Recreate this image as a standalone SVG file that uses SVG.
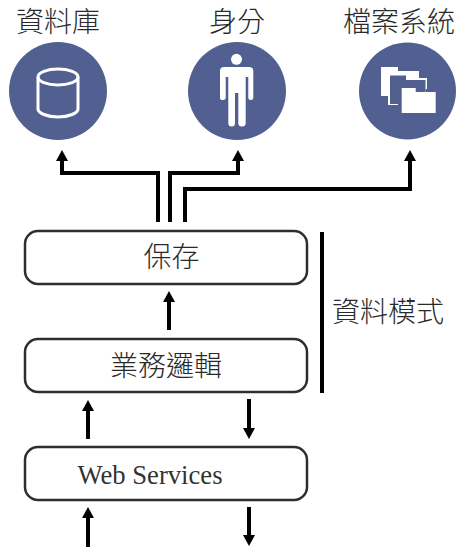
<svg xmlns="http://www.w3.org/2000/svg" width="456" height="548" viewBox="0 0 456 548">
<style>
text{font-family:"Noto Sans CJK TC","Noto Sans CJK SC",sans-serif;font-size:28px;font-weight:300;fill:#2a2a2a;text-anchor:middle}
.latin{font-family:"Liberation Serif",serif;fill:#333}
.box{fill:#fff;stroke:#2e2e2e;stroke-width:2.5}
.disc{fill:#526091}
.line{fill:none;stroke:#000;stroke-width:4;stroke-linejoin:miter}
.arrow{marker-end:url(#head)}
.icon{fill:#fff}
.iconline{fill:none;stroke:#fff;stroke-width:3}
</style>
<defs>
<marker id="head" markerUnits="userSpaceOnUse" markerWidth="12" markerHeight="12" refX="0" refY="6" orient="auto">
<path d="M0 0L11 6L0 12Z" fill="#000"/>
</marker>
</defs>
<g id="connectors">
<path class="line arrow" d="M158 222V173H62V161"/>
<path class="line arrow" d="M170 222V173H238V161"/>
<path class="line arrow" d="M185 222V189H410V161"/>
<path class="line arrow" d="M169 330V302"/>
<path class="line arrow" d="M88 439V411"/>
<path class="line arrow" d="M249 399V428"/>
<path class="line arrow" d="M88 547V518"/>
<path class="line arrow" d="M249 507V535"/>
<path class="line" d="M322 232V393"/>
</g>
<g id="db">
<text x="58" y="32">資料庫</text>
<circle class="disc" cx="58" cy="91" r="49"/>
<ellipse class="iconline" cx="58" cy="77" rx="20" ry="8"/>
<path class="iconline" d="M38 77V109C38 113 47 117 58 117S78 113 78 109V77"/>
</g>
<g id="identity">
<text x="237" y="32">身分</text>
<circle class="disc" cx="237" cy="91" r="49"/>
<circle class="icon" cx="236.500" cy="59.300" r="5.500"/>
<path class="icon" d="M224 67H249Q253.300 67 253.300 71V98Q253.300 100 250.800 100Q248.300 100 248.300 98V77H245.700V123Q245.700 126.500 242 126.500Q238.300 126.500 238.300 123V93H235V123Q235 126.500 231.700 126.500Q228.300 126.500 228.300 123V77H225.700V98Q225.700 100 223 100Q220 100 220 98V71Q220 67 224 67Z"/>
</g>
<g id="filesystem">
<text x="399" y="32">檔案系統</text>
<circle class="disc" cx="407.500" cy="91" r="48.500"/>
<path class="icon" d="M381 67H398V71H419V78H427V89H425.500V95H398V105H388V96H381Z"/>
<path class="disc" d="M390 75.500H406V80H425.500V96H400V104H390Z"/>
<path class="icon" d="M401.700 88H415.700V92H435.700V113H401.700Z"/>
</g>
<g id="storage">
<rect class="box" x="25" y="231" width="282" height="53" rx="13"/>
<text x="171.500" y="267">保存</text>
</g>
<g id="logic">
<rect class="box" x="25" y="339" width="282" height="53" rx="13"/>
<text x="166" y="376">業務邏輯</text>
</g>
<g id="web">
<rect class="box" x="25" y="447" width="282" height="53" rx="13"/>
<text class="latin" x="150" y="484" textLength="145" lengthAdjust="spacingAndGlyphs">Web Services</text>
</g>
<g id="schema">
<text x="388" y="322">資料模式</text>
</g>
</svg>
